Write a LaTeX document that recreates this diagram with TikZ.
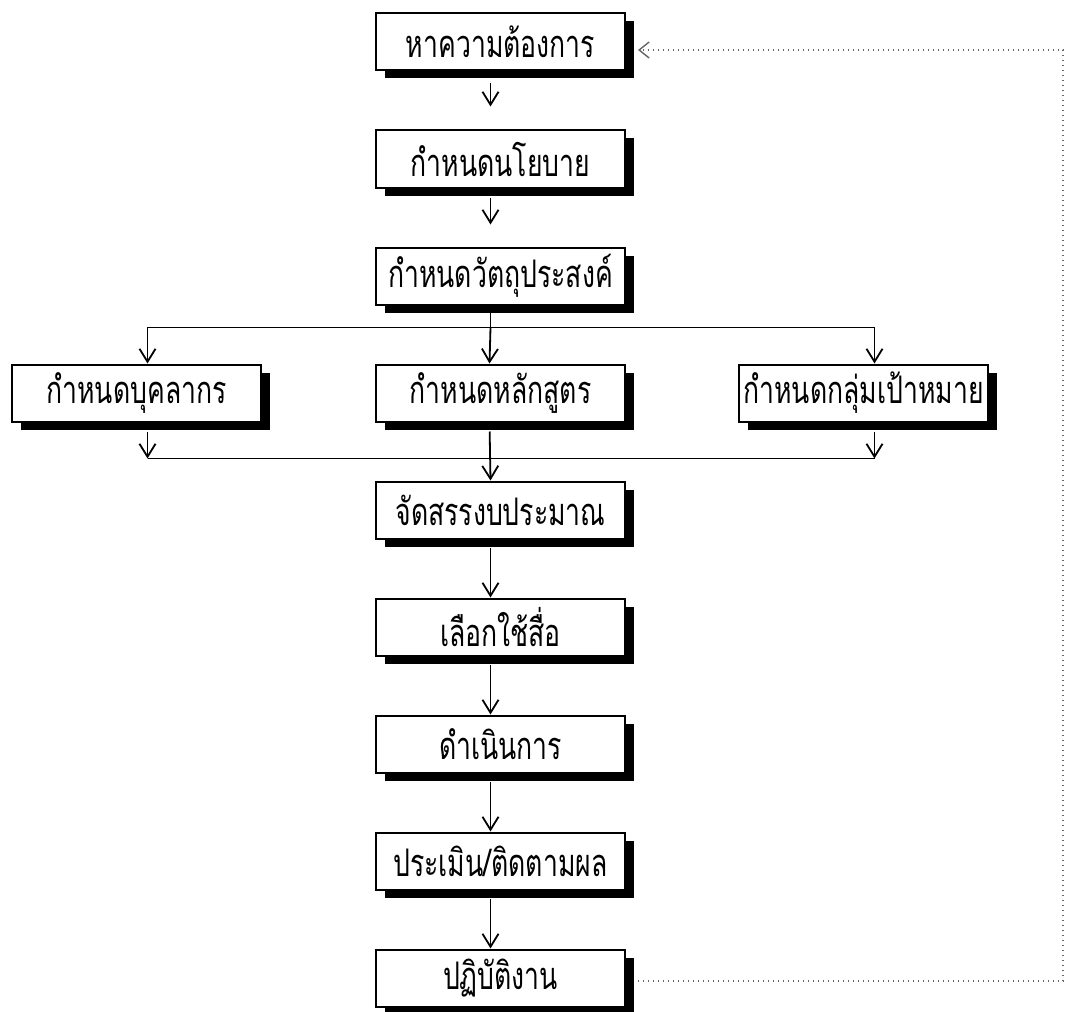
\documentclass[tikz,border=0pt]{standalone}
\usepackage{fontspec}
\newfontfamily\thaifont[Script=Thai,FakeStretch=0.7]{Loma}
\usetikzlibrary{arrows.meta,shadows}
\begin{document}
\begin{tikzpicture}[x=1pt, y=-1pt, node distance=117pt,
  stage/.style={draw, line width=2pt, fill=white, minimum width=249pt,
    minimum height=57pt, inner sep=1pt, font=\thaifont\fontsize{38}{42}\selectfont,
    drop shadow={shadow xshift=9pt, shadow yshift=-8pt, fill=black, opacity=1}},
  flow/.style={line width=1.8pt, -{Straight Barb[length=13pt, width=16pt]}},
  back/.style={black!60, line width=1.4pt, dash pattern=on 1.2pt off 3.8pt,
    -{Straight Barb[length=10pt, width=16pt]}}]
\useasboundingbox (0,0) rectangle (1067,1011);
\node[stage] (need) at (500.5,42) {หาความต้องการ};
\node[stage] (policy) [below of=need] {กำหนดนโยบาย};
\node[stage] (objective) [below of=policy] {กำหนดวัตถุประสงค์};
\node[stage] (course) [below of=objective] {กำหนดหลักสูตร};
\node[stage] (staff) [left of=course, node distance=364pt] {กำหนดบุคลากร};
\node[stage] (target) [right of=course, node distance=363pt] {กำหนดกลุ่มเป้าหมาย};
\node[stage] (budget) [below of=course] {จัดสรรงบประมาณ};
\node[stage] (media) [below of=budget] {เลือกใช้สื่อ};
\node[stage] (operate) [below of=media] {ดำเนินการ};
\node[stage] (assess) [below of=operate] {ประเมิน/ติดตามผล};
\node[stage] (practice) [below of=assess] {ปฏิบัติงาน};
% short arrows at the top
\draw[flow, shorten <=12pt, shorten >=23pt] ([xshift=-10pt]need.south) to ([xshift=-10pt]policy.north);
\draw[flow, shorten <=9pt, shorten >=22pt] ([xshift=-10pt]policy.south) to ([xshift=-10pt]objective.north);
% split into three
\coordinate (split) at ([xshift=-10pt, yshift=-22pt]objective.south);
\draw[line width=1.8pt] ([xshift=-10pt]objective.south) -- (split);
\draw[flow] (split) -- ([xshift=-11pt]course.north);
\draw[flow] (split) -| ([xshift=11pt]staff.north);
\draw[flow] (split) -| ([xshift=11pt]target.north);
% join again
\coordinate (join) at ([xshift=-10pt, yshift=22pt]budget.north);
\coordinate (joinL) at ([xshift=11pt]staff.south |- join);
\coordinate (joinR) at ([xshift=11pt]target.south |- join);
\draw[line width=1.8pt] (joinL) -- (joinR);
\draw[flow, shorten <=9pt] ([xshift=11pt]staff.south) -- (joinL);
\draw[flow, shorten <=9pt] ([xshift=11pt]target.south) -- (joinR);
\draw[flow, shorten <=9pt] ([xshift=-11pt]course.south) -- ([xshift=-10pt]budget.north);
% down the column
\draw[flow, shorten <=8pt] ([xshift=-10pt]budget.south) -- ([xshift=-10pt]media.north);
\draw[flow, shorten <=8pt] ([xshift=-10pt]media.south) -- ([xshift=-10pt]operate.north);
\draw[flow, shorten <=8pt] ([xshift=-10pt]operate.south) -- ([xshift=-10pt]assess.north);
\draw[flow, shorten <=8pt] ([xshift=-10pt]assess.south) -- ([xshift=-10pt]practice.north);
% feedback loop
\coordinate (loop) at (1063,500);
\draw[back] ([xshift=12pt, yshift=-3pt]practice.east) -| (loop) |- ([xshift=12pt, yshift=-8pt]need.east);
\end{tikzpicture}
\end{document}
